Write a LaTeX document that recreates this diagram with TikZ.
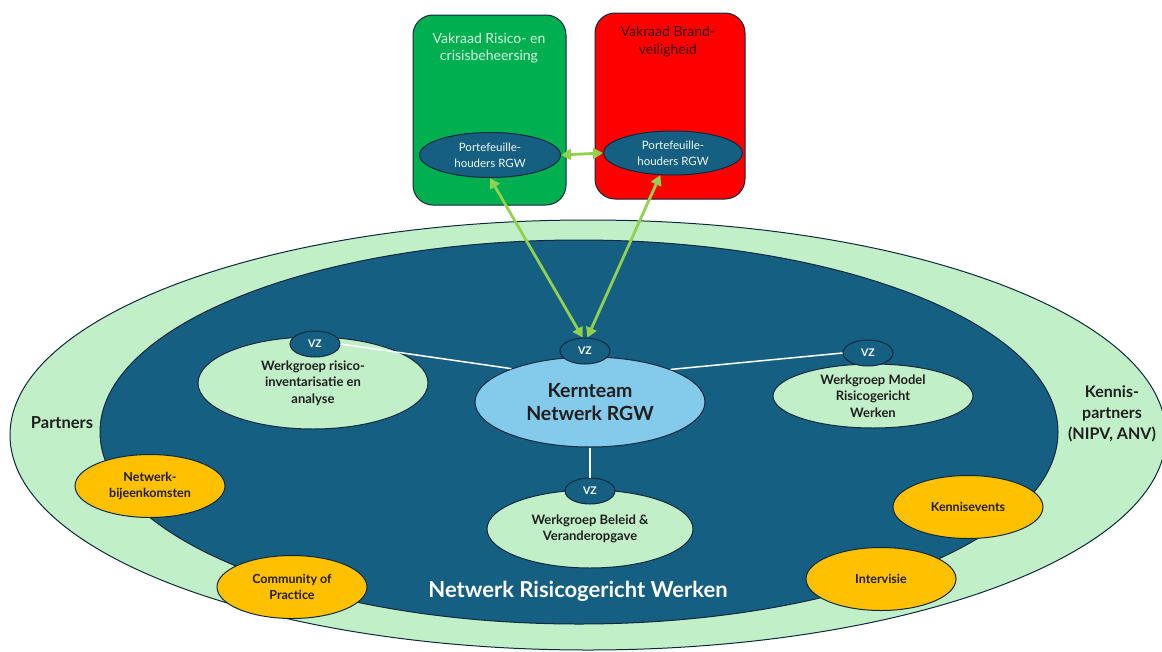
\documentclass[tikz,border=0pt]{standalone}
\usepackage{fontspec}
\setmainfont{Lato}
\usetikzlibrary{shapes.geometric, arrows.meta}

\definecolor{lichtgroen}{RGB}{193,240,200}
\definecolor{donkerblauw}{RGB}{21,96,130}
\definecolor{lichtblauw}{RGB}{131,202,235}
\definecolor{oranje}{RGB}{255,192,0}
\definecolor{rand}{RGB}{14,40,62}
\definecolor{pijlgroen}{RGB}{146,208,80}
\definecolor{vakgroen}{RGB}{0,176,80}
\definecolor{vakrood}{RGB}{255,0,0}
\definecolor{tekst}{RGB}{30,30,30}

\begin{document}
\begin{tikzpicture}[x=1pt, y=-1pt,
        ovaal/.style={ellipse, draw=rand, line width=1pt, align=center, inner sep=0pt},
        werkgroep/.style={ovaal, fill=lichtgroen, text=tekst, font=\fontsize{13}{16.5}\selectfont\bfseries},
        activiteit/.style={ovaal, fill=oranje, text=tekst, minimum width=150pt, minimum height=63pt, font=\fontsize{12.5}{16.5}\selectfont\bfseries},
        vz/.style={ovaal, fill=donkerblauw, text=white, minimum width=50pt, minimum height=26pt, font=\fontsize{10.5}{12}\selectfont\bfseries},
        portefeuille/.style={ovaal, fill=donkerblauw, text=white!90!lichtblauw, font=\fontsize{11.5}{16}\selectfont},
        vakraad/.style={rectangle, rounded corners=20pt, draw=rand, line width=1pt},
        verbinding/.style={draw=white, line width=1.5pt},
        pijl/.style={{Triangle[width=11pt,length=10pt]}-{Triangle[width=11pt,length=10pt]}, draw=pijlgroen, line width=2.8pt}]
        \useasboundingbox[fill=white] (0,0) rectangle (1162,651);

        % netwerk
        \draw[fill=lichtgroen, draw=rand, line width=1pt] (588,435) ellipse [x radius=578pt, y radius=215pt];
        \draw[fill=donkerblauw, draw=rand, line width=1pt] (579,432) ellipse [x radius=479pt, y radius=192pt];

        % vakraden
        \node[vakraad, fill=vakgroen, minimum width=153pt, minimum height=190pt] (vrG) at (489.5,110) {};
        \node[vakraad, fill=vakrood, minimum width=150pt, minimum height=186pt] (vrR) at (670,106) {};
        \node[align=center, text=lichtgroen!60!white, font=\fontsize{14}{17}\selectfont] (titelG) at (489,48) {Vakraad Risico- en\\crisisbeheersing};
        \node[align=center, text=red!20!black, font=\fontsize{14}{18}\selectfont] (titelR) at (668,42) {Vakraad Brand-\\veiligheid};
        \node[portefeuille, minimum width=141pt, minimum height=45pt] (pfG) at (490,155) {Portefeuille-\\houders RGW};
        \node[portefeuille, minimum width=139pt, minimum height=44pt] (pfR) at (673,153) {Portefeuille-\\houders RGW};

        % kernteam en werkgroepen
        \node[ovaal, fill=lichtblauw, text=tekst, minimum width=230pt, minimum height=90pt, font=\fontsize{19.5}{23}\selectfont\bfseries] (kern) at (590,402) {Kernteam\\Netwerk RGW};
        \node[werkgroep, minimum width=230pt, minimum height=92pt] (wgA) at (313,383) {Werkgroep risico-\\inventarisatie en\\analyse};
        \node[werkgroep, minimum width=200pt, minimum height=64pt] (wgM) at (873,396) {Werkgroep Model\\Risicogericht\\Werken};
        \node[werkgroep, minimum width=206pt, minimum height=78pt] (wgB) at (590,529) {Werkgroep Beleid \&\\Veranderopgave};
        \node[vz] (vzK) at (585,351) {VZ};
        \node[vz] (vzA) at (315,344) {VZ};
        \node[vz] (vzM) at (868,353) {VZ};
        \node[vz] (vzB) at (590,491) {VZ};

        \draw[verbinding] (vzA.east) -- (kern.157);
        \draw[verbinding] (kern.22) -- (vzM.west);
        \draw[verbinding] (kern.south) -- (vzB.north);

        % activiteiten
        \node[activiteit] (nb) at (150,486) {Netwerk-\\bijeenkomsten};
        \node[activiteit] (cop) at (292,587) {Community of\\Practice};
        \node[activiteit] (ke) at (968,507) {Kennisevents};
        \node[activiteit] (iv) at (881,579) {Intervisie};

        \node[text=tekst, font=\fontsize{16.5}{20}\selectfont\bfseries] (partners) at (62,423) {Partners};
        \node[align=center, text=tekst, font=\fontsize{16}{21}\selectfont\bfseries] (kennis) at (1112,414) {Kennis-\\partners\\(NIPV, ANV)};
        \node[text=white, font=\fontsize{22}{24}\selectfont\bfseries] (netwerk) at (578,591) {Netwerk Risicogericht Werken};

        % pijlen
        \draw[pijl] (pfG.east) -- (pfR.west);
        \draw[pijl] (pfG.south) -- (vzK.100);
        \draw[pijl] (pfR.240) -- (vzK.80);
\end{tikzpicture}
\end{document}
